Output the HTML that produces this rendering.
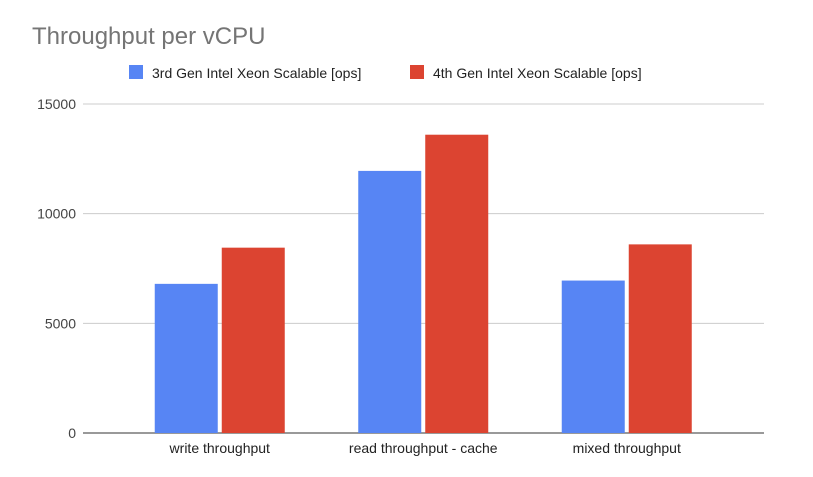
<!DOCTYPE html>
<html><head><meta charset="utf-8"><style>
body{margin:0;background:#fff;font-family:"Liberation Sans",Arial,sans-serif;}
</style></head><body>
<svg width="813" height="472" xmlns="http://www.w3.org/2000/svg" font-family="Liberation Sans, Arial, sans-serif">
<rect width="813" height="472" fill="#fff"/>
<text x="32" y="44" font-size="24" fill="#757575">Throughput per vCPU</text>
<g>
<rect x="129" y="65" width="14" height="14" fill="#5785f4"/>
<text x="152" y="78" font-size="14" fill="#222">3rd Gen Intel Xeon Scalable [ops]</text>
<rect x="410" y="65" width="14" height="14" fill="#dc4431"/>
<text x="433" y="78" font-size="14" fill="#222">4th Gen Intel Xeon Scalable [ops]</text>
</g>
<g id="grid"></g><g id="bars"></g><g id="xl"></g>
</svg>
<script>
const categories=["write throughput","read throughput - cache","mixed throughput"];
const series3rd=[6800,11950,6950];
const series4th=[8450,13600,8600];
const yTicks=[0,5000,10000,15000];
const NS="http://www.w3.org/2000/svg";
const y0=433,yTop=104,yMax=15000;
function y(v){return y0-(v/yMax)*(y0-yTop);}
const plotL=118,catW=203.5;
function xc(i){return plotL+catW*(i+0.5);}
const grid=document.getElementById('grid'),bars=document.getElementById('bars'),xl=document.getElementById('xl');
function mk(tag,attrs,parent){const e=document.createElementNS(NS,tag);for(const k in attrs)e.setAttribute(k,attrs[k]);parent.appendChild(e);return e;}
yTicks.forEach(t=>{
 const l=mk('line',{x1:83,x2:764,y1:y(t),y2:y(t),stroke:t===0?'#333':'#ccc','stroke-width':1},grid);
 
 
 const tx=mk('text',{x:76,y:y(t)+5,'text-anchor':'end','font-size':14,fill:'#444'},grid);
 tx.textContent=t;
 
 
});
const bw=63,gap=4;
categories.forEach((c,i)=>{
 const cx=xc(i);
 const b1=mk('rect',{x:cx-gap/2-bw,y:y(series3rd[i]),width:bw,height:y0-y(series3rd[i]),fill:'#5785f4'},bars);
 
 
 const b2=mk('rect',{x:cx+gap/2,y:y(series4th[i]),width:bw,height:y0-y(series4th[i]),fill:'#dc4431'},bars);
 
 
 const t=mk('text',{x:cx,y:453,'text-anchor':'middle','font-size':14,fill:'#222'},xl);
 t.textContent=c;
 
 
});
</script>
</body></html>
